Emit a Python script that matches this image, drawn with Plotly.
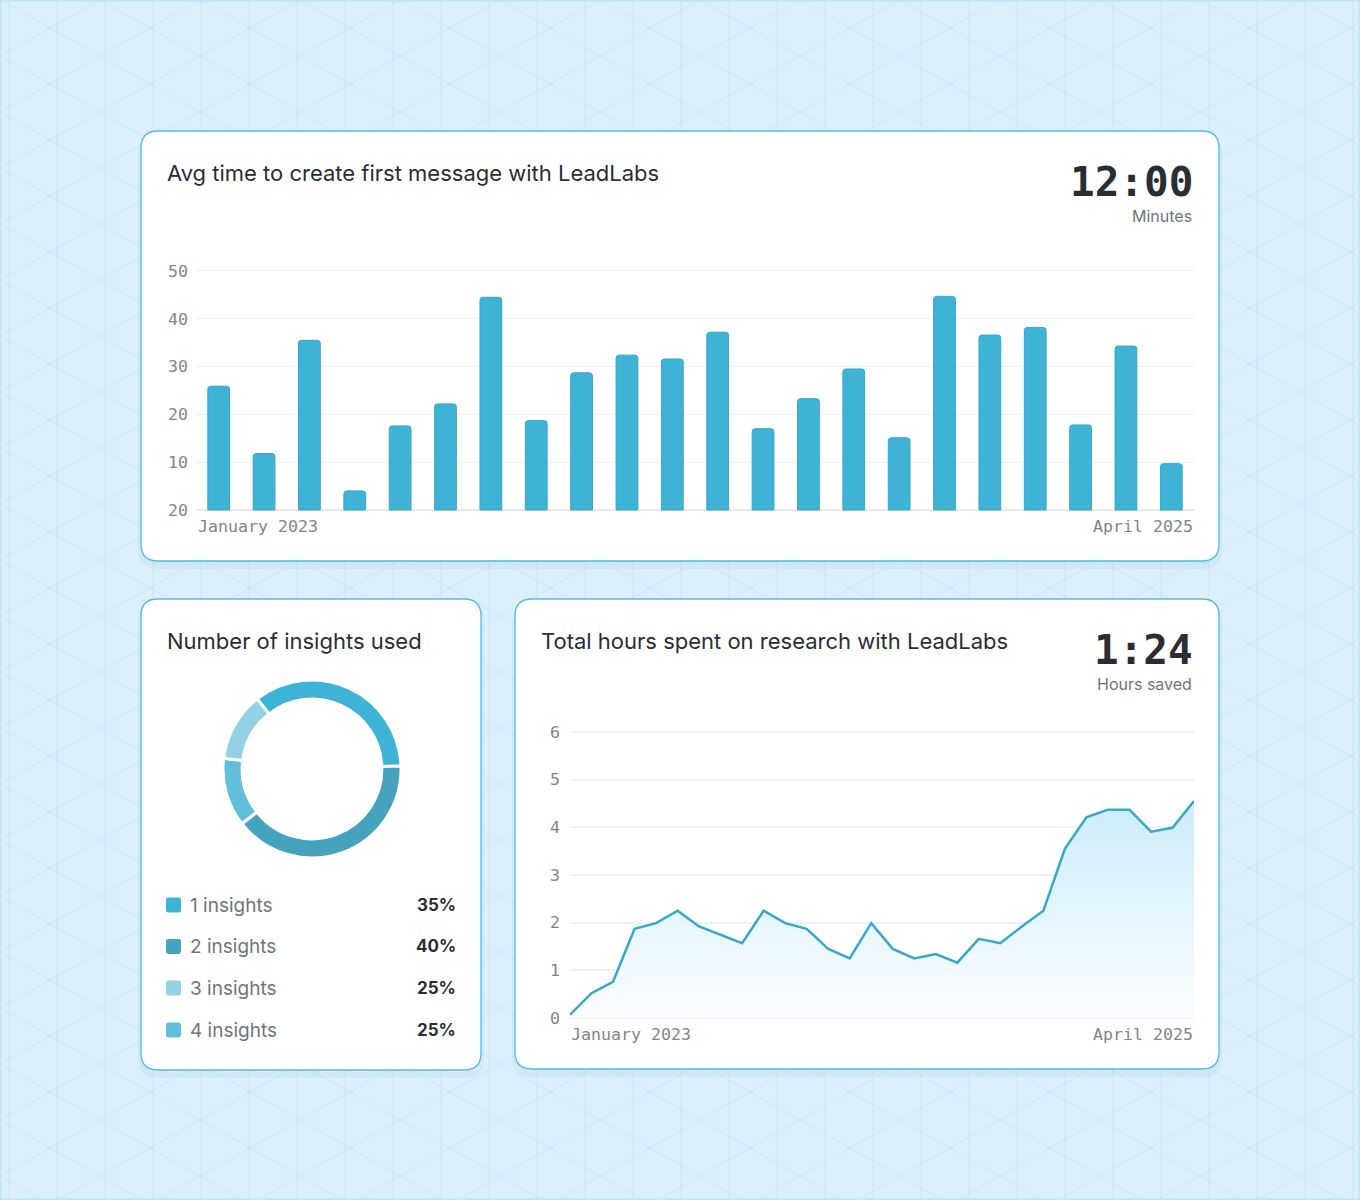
import plotly.graph_objects as go

W, H = 1360, 1200

# ---------------- data ----------------
bar_values = [25.9, 11.8, 35.5, 4.0, 17.6, 22.2, 44.5, 18.7, 28.7, 32.4, 31.6,
              37.2, 17.0, 23.3, 29.5, 15.1, 44.7, 36.6, 38.2, 17.8, 34.3, 9.7]
bar_tickvals = [0, 10, 20, 30, 40, 50]
bar_ticktext = ["20", "10", "20", "30", "40", "50"]
period_labels = ["January 2023", "April 2025"]

hours_values = [0.07, 0.52, 0.76, 1.87, 1.99, 2.25, 1.92, 1.75, 1.57, 2.25,
                1.99, 1.87, 1.45, 1.25, 1.99, 1.45, 1.25, 1.34, 1.16, 1.66,
                1.57, 1.92, 2.25, 3.55, 4.21, 4.37, 4.37, 3.91, 3.99, 4.55]
hours_tickvals = [0, 1, 2, 3, 4, 5, 6]

insight_labels = ["1 insights", "2 insights", "3 insights", "4 insights"]
insight_pct_text = ["35%", "40%", "25%", "25%"]
insight_arc_share = [35, 40, 12.5, 12.5]
insight_colors = ["#3db3d6", "#45a3bd", "#93d2e4", "#62bfdc"]
arc_order = [0, 1, 3, 2]

titles = ["Avg time to create first message with LeadLabs",
          "Number of insights used",
          "Total hours spent on research with LeadLabs"]
kpi_values = ["12:00", "1:24"]
kpi_units = ["Minutes", "Hours saved"]

# ---------------- helpers ----------------
def X(px):
    return px / W

def Y(py):
    return 1 - py / H

def rrect(x0, y0, x1, y1, r):
    pts = [
        ("M", [(x0 + r, y0)]), ("L", [(x1 - r, y0)]), ("Q", [(x1, y0), (x1, y0 + r)]),
        ("L", [(x1, y1 - r)]), ("Q", [(x1, y1), (x1 - r, y1)]),
        ("L", [(x0 + r, y1)]), ("Q", [(x0, y1), (x0, y1 - r)]),
        ("L", [(x0, y0 + r)]), ("Q", [(x0, y0), (x0 + r, y0)]),
    ]
    s = ""
    for cmd, cs in pts:
        s += cmd + " " + " ".join(f"{X(a):.5f},{Y(b):.5f}" for a, b in cs) + " "
    return s + "Z"

MONO = "DejaVu Sans Mono"
SANS = "Inter"
DARK = "#2a2e33"
GREY = "#6f757a"
TICK = "#80858a"

fig = go.Figure()

# ---------------- bar chart ----------------
fig.add_trace(go.Bar(
    x=list(range(len(bar_values))), y=bar_values,
    marker=dict(color="#3fb3d6", line=dict(color="#38a6c7", width=1), cornerradius=3),
    width=0.48, xaxis="x", yaxis="y", hoverinfo="skip",
))

# ---------------- line chart ----------------
fig.add_trace(go.Scatter(
    x=list(range(len(hours_values))), y=hours_values, mode="lines",
    line=dict(color="#37a7ca", width=2.5),
    fill="tozeroy",
    fillgradient=dict(type="vertical",
                      colorscale=[[0, "rgba(250,253,255,0.9)"], [0.5, "#e4f5fd"], [1, "#cdecfb"]]),
    xaxis="x2", yaxis="y2", hoverinfo="skip",
))

# ---------------- donut ----------------
fig.add_trace(go.Pie(
    labels=[insight_labels[i] for i in arc_order],
    values=[insight_arc_share[i] for i in arc_order],
    marker=dict(colors=[insight_colors[i] for i in arc_order],
                line=dict(color="white", width=3)),
    hole=0.785, sort=False, direction="clockwise", rotation=-38,
    textinfo="none", hoverinfo="skip", showlegend=False, automargin=False,
    domain=dict(x=[X(223), X(401)], y=[Y(858), Y(680)]),
))

shapes = []
# background grid
gl = dict(color="rgba(160,200,222,0.24)", width=1)
for k in range(0, 30):
    xp = 9 + 48 * k
    shapes.append(dict(type="line", xref="paper", yref="paper", x0=X(xp), x1=X(xp),
                       y0=0, y1=1, line=gl, layer="below"))
s = 0.56
for k in range(-16, 40):
    c = k * 56
    shapes.append(dict(type="line", xref="paper", yref="paper",
                       x0=0, y0=Y(c), x1=1, y1=Y(c + s * W), line=gl, layer="below"))
    shapes.append(dict(type="line", xref="paper", yref="paper",
                       x0=0, y0=Y(c), x1=1, y1=Y(c - s * W), line=gl, layer="below"))
# outer frame
shapes.append(dict(type="rect", xref="paper", yref="paper", x0=0, y0=0, x1=1, y1=1,
                   line=dict(color="#c2e6f5", width=3), layer="below"))

cards = [(141, 131, 1219, 561), (141, 599, 481, 1070), (515, 599, 1219, 1069)]
for (a, b, c, d) in cards:
    shapes.append(dict(type="path", xref="paper", yref="paper",
                       path=rrect(a - 3, b + 2, c + 3, d + 8, 20),
                       fillcolor="rgba(110,175,210,0.10)", line=dict(width=0), layer="below"))
for (a, b, c, d) in cards:
    shapes.append(dict(type="path", xref="paper", yref="paper",
                       path=rrect(a, b, c, d, 17),
                       fillcolor="white", line=dict(color="#52bce0", width=1.3), layer="below"))

# legend squares
row_y = [905, 946.5, 988, 1030]
for i, yy in enumerate(row_y):
    shapes.append(dict(type="path", xref="paper", yref="paper",
                       path=rrect(166, yy - 7.5, 181, yy + 7.5, 2.5),
                       fillcolor=insight_colors[i], line=dict(width=0), layer="above"))

ann = []
def text(t, x, y, size, color, family=SANS, xanchor="left", weight=None):
    f = dict(family=family, size=size, color=color)
    if weight:
        f["weight"] = weight
    ann.append(dict(text=t, x=X(x), y=Y(y), xref="paper", yref="paper", showarrow=False,
                    xanchor=xanchor, yanchor="middle", font=f))

text(titles[0], 165, 173, 22, DARK)
text(kpi_values[0], 1195, 182, 41, DARK, family=MONO, xanchor="right", weight=700)
text(kpi_units[0], 1194, 216, 16, GREY, xanchor="right")
text(period_labels[0], 196, 526, 16.6, TICK, family=MONO)
text(period_labels[1], 1195, 526, 16.6, TICK, family=MONO, xanchor="right")

text(titles[1], 165, 641, 22, DARK)
for i, yy in enumerate(row_y):
    text(insight_labels[i], 188, yy, 19, GREY)
    text(insight_pct_text[i], 458, yy, 17, DARK, xanchor="right", weight=700)

text(titles[2], 539, 641, 22, DARK)
text(kpi_values[1], 1195, 650, 41, DARK, family=MONO, xanchor="right", weight=700)
text(kpi_units[1], 1194, 684, 16, GREY, xanchor="right")
text(period_labels[0], 569, 1034, 16.6, TICK, family=MONO)
text(period_labels[1], 1195, 1034, 16.6, TICK, family=MONO, xanchor="right")

# axis geometry (pixel -> domain)
bar_px_per = (510 - 271) / 50.0
bar_lo, bar_hi = -0.3, 50.3
line_px_per = (1018 - 732) / 6.0
line_lo, line_hi = -0.05, 6.05

fig.update_layout(
    template="none",
    width=W, height=H, autosize=False,
    margin=dict(l=0, r=0, t=0, b=0, pad=0, autoexpand=False),
    paper_bgcolor="#dbf0fa", plot_bgcolor="rgba(0,0,0,0)",
    showlegend=False, shapes=shapes, annotations=ann,
    xaxis=dict(domain=[X(196), X(1194)], range=[-0.5, 21.5], showgrid=False,
               zeroline=False, showticklabels=False, fixedrange=True, automargin=False,
               showline=False, ticks=""),
    yaxis=dict(domain=[Y(510 - bar_lo * bar_px_per), Y(510 - bar_hi * bar_px_per)],
               range=[bar_lo, bar_hi], tickvals=bar_tickvals, ticktext=bar_ticktext,
               showgrid=True, gridcolor="#eff2f4", gridwidth=1,
               zeroline=True, zerolinecolor="#e6eaed", zerolinewidth=2,
               ticks="", ticklabelstandoff=7, automargin=False, showline=False,
               tickfont=dict(family=MONO, size=16.6, color=TICK), fixedrange=True),
    xaxis2=dict(domain=[X(570), X(1194)], range=[0, 29], showgrid=False, anchor="y2",
                zeroline=False, showticklabels=False, fixedrange=True, automargin=False,
                showline=False, ticks=""),
    yaxis2=dict(domain=[Y(1018 - line_lo * line_px_per), Y(1018 - line_hi * line_px_per)],
                range=[line_lo, line_hi], tickvals=hours_tickvals,
                showgrid=True, gridcolor="#eff2f4", gridwidth=1.5,
                zeroline=True, zerolinecolor="#eff2f4", zerolinewidth=1.5,
                ticks="", ticklabelstandoff=9, anchor="x2", automargin=False, showline=False,
                tickfont=dict(family=MONO, size=16.6, color=TICK), fixedrange=True),
)

fig.write_html("out.html", config={"displayModeBar": False},
               post_script="document.body.style.margin='0';document.body.style.padding='0';"
                           "document.documentElement.style.overflow='hidden';")
